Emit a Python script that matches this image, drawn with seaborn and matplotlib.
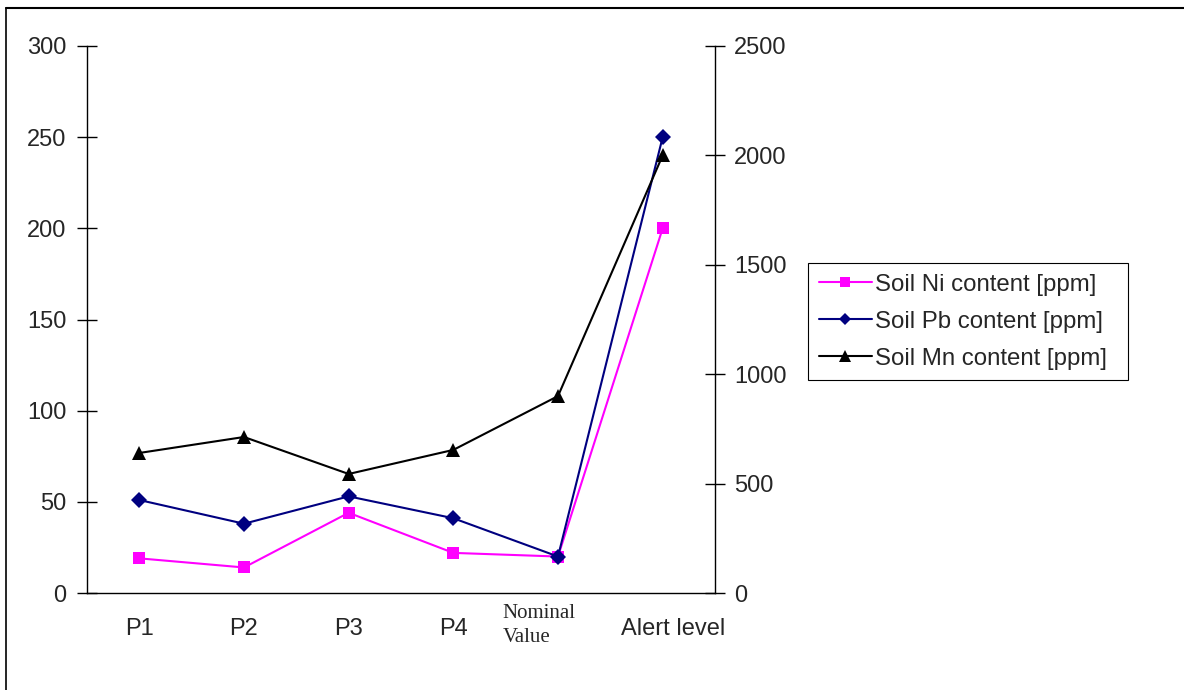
import matplotlib
matplotlib.use("Agg")
import matplotlib.pyplot as plt
from matplotlib.lines import Line2D
import seaborn as sns
import numpy as np

# Sampling sites and reference levels
categories = ["P1", "P2", "P3", "P4", "Nominal\nValue", "Alert level"]
ni_ppm = [19, 14, 44, 22, 20, 200]
pb_ppm = [51, 38, 53, 41, 20, 250]
mn_ppm = [640, 713, 544, 654, 900, 2000]
left_ticks = [0, 50, 100, 150, 200, 250, 300]
right_ticks = [0, 500, 1000, 1500, 2000, 2500]

sns.set_style("white")
plt.rcParams["font.family"] = ["Liberation Sans", "DejaVu Sans"]

FS = 17

W, H = 1184, 690
fig = plt.figure(figsize=(W / 100, H / 100), dpi=100)
ax = fig.add_axes([87 / W, 1 - 593 / H, (715 - 87) / W, (593 - 46) / H])
ax2 = ax.twinx()

x = np.arange(len(categories))

sns.lineplot(x=x, y=ni_ppm, ax=ax, color="#FF00FF", marker="s", markersize=8.5,
             markeredgewidth=0, linewidth=1.5, legend=False)
sns.lineplot(x=x, y=pb_ppm, ax=ax, color="#000080", marker="D", markersize=8,
             markeredgewidth=0, linewidth=1.5, legend=False)
sns.lineplot(x=x, y=mn_ppm, ax=ax2, color="black", marker="^", markersize=10,
             markeredgewidth=0, linewidth=1.5, legend=False)

for a in (ax, ax2):
    a.set_xlim(-0.5, len(categories) - 0.5)
    a.set_facecolor("none")
    for s in a.spines.values():
        s.set_visible(False)
    a.grid(False)

ax.set_ylim(0, 300)
ax2.set_ylim(0, 2500)
ax.spines["left"].set_visible(True)
ax.spines["bottom"].set_visible(True)
ax2.spines["right"].set_visible(True)
for s in (ax.spines["left"], ax.spines["bottom"], ax2.spines["right"]):
    s.set_color("black")
    s.set_linewidth(1.0)

ax.set_yticks(left_ticks)
ax.set_yticklabels([str(v) for v in left_ticks])
ax2.set_yticks(right_ticks)
ax2.set_yticklabels([str(v) for v in right_ticks])
ax.tick_params(axis="y", direction="inout", length=14, width=1, color="black",
               labelsize=FS, pad=8, left=True)
ax2.tick_params(axis="y", direction="inout", length=14, width=1, color="black",
                labelsize=FS, pad=6.5, right=True)

# Category boundaries as ticks, labels at the centres
ax.set_xticks(np.arange(-0.5, len(categories)), minor=False)
ax.set_xticklabels([""] * (len(categories) + 1))
ax.tick_params(axis="x", direction="out", length=10, width=1, color="black", bottom=True)
ax2.set_xticks([])

trans = ax.get_xaxis_transform()
for i, lab in enumerate(categories):
    if "Nominal" in lab:
        ax.text(i - 0.53, -0.02, lab, transform=trans, ha="left", va="top",
                fontsize=15, family=["Liberation Serif", "DejaVu Serif"],
                linespacing=1.33)
    elif lab.startswith("Alert"):
        ax.text(i + 0.1, -0.046, lab, transform=trans, ha="center", va="top", fontsize=FS)
    else:
        ax.text(i, -0.046, lab, transform=trans, ha="center", va="top", fontsize=FS)

ax.set_xlabel("")
ax.set_ylabel("")
ax2.set_ylabel("")

handles = [
    Line2D([], [], color="#FF00FF", marker="s", markersize=7, markeredgewidth=0, linewidth=1.5),
    Line2D([], [], color="#000080", marker="D", markersize=6, markeredgewidth=0, linewidth=1.5),
    Line2D([], [], color="black", marker="^", markersize=8, markeredgewidth=0, linewidth=1.5),
]
labels = ["Soil Ni content [ppm]", "Soil Pb content [ppm]", "Soil Mn content [ppm]"]
leg = fig.legend(handles, labels, loc="upper left", mode="expand",
                 bbox_to_anchor=(808 / W, 1 - 374 / H, 320 / W, 111 / H),
                 fontsize=17.3,
                 frameon=True, fancybox=False, shadow=False, framealpha=1,
                 edgecolor="black", handlelength=2.2, handletextpad=0.12,
                 borderpad=0.45, labelspacing=0.62, borderaxespad=0)
leg.get_frame().set_linewidth(0.8)

# Outer frame
fig.add_artist(Line2D([6 / W, 6 / W], [0, 1 - 8 / H], color="black", linewidth=1.2,
                      transform=fig.transFigure))
fig.add_artist(Line2D([6 / W, 1], [1 - 8 / H, 1 - 8 / H], color="black", linewidth=1.5,
                      transform=fig.transFigure))

fig.savefig("out.png", dpi=100, facecolor="white")
